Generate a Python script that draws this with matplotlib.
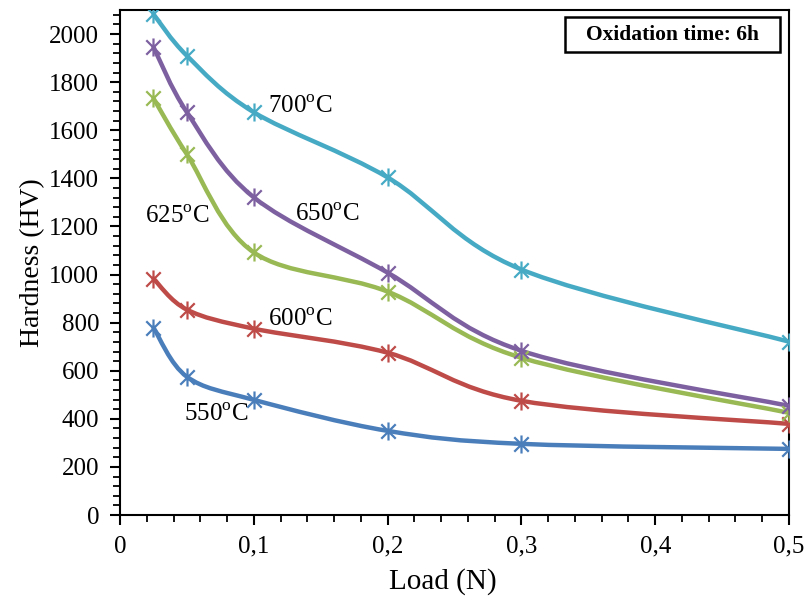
import matplotlib
matplotlib.use("Agg")
import matplotlib.pyplot as plt
import numpy as np
from matplotlib.path import Path
from matplotlib.patches import PathPatch, Rectangle
from matplotlib.ticker import MultipleLocator, FuncFormatter

plt.rcParams["font.family"] = ["Liberation Serif", "DejaVu Serif"]
plt.rcParams["mathtext.fontset"] = "custom"
plt.rcParams["mathtext.rm"] = "Liberation Serif"

load = [0.025, 0.05, 0.1, 0.2, 0.3, 0.5]
hv_550 = [779, 575, 479, 350, 296, 275]
hv_600 = [983, 854, 775, 675, 475, 379]
hv_625 = [1733, 1500, 1092, 929, 654, 425]
hv_650 = [1946, 1675, 1321, 1008, 683, 454]
hv_700 = [2083, 1910, 1675, 1404, 1021, 721]

series = [
    ("550", hv_550, "#4a7ebb", (0.048, 417)),
    ("600", hv_600, "#be4b48", (0.1106, 812)),
    ("625", hv_625, "#98b954", (0.0187, 1238)),
    ("650", hv_650, "#7d60a0", (0.131, 1250)),
    ("700", hv_700, "#46aac5", (0.1106, 1696)),
]

# excel-like star marker: vertical bar plus an x
star = Path(
    [(0, -1), (0, 1), (-0.8, -0.8), (0.8, 0.8), (-0.8, 0.8), (0.8, -0.8)],
    [Path.MOVETO, Path.LINETO] * 3,
)


def smooth_path(xs, ys):
    pts = np.column_stack([xs, ys]).astype(float)
    ext = np.vstack([pts[0], pts, pts[-1]])
    verts = [pts[0]]
    codes = [Path.MOVETO]
    for i in range(len(pts) - 1):
        p0, p1, p2, p3 = ext[i], ext[i + 1], ext[i + 2], ext[i + 3]
        c1 = p1 + (p2 - p0) / 6
        c2 = p2 - (p3 - p1) / 6
        verts += [c1, c2, p2]
        codes += [Path.CURVE4] * 3
    return Path(verts, codes)


fig = plt.figure(figsize=(8.06, 5.99), dpi=100)
ax = fig.add_axes([0.1489, 0.1402, 0.830, 0.843])

for name, vals, color, pos in series:
    ax.add_patch(PathPatch(smooth_path(load, vals), facecolor="none",
                           edgecolor=color, lw=3.2, capstyle="round", zorder=2))
    ax.plot(load, vals, linestyle="none", marker=star, markersize=13,
            markeredgewidth=1.6, color=color, zorder=3)
    ax.text(pos[0], pos[1], name + r"$^{\mathrm{o}}$C", fontsize=18,
            ha="left", va="center", zorder=4)

ax.set_xlim(0, 0.5)
ax.set_ylim(0, 2100)
ax.xaxis.set_major_locator(MultipleLocator(0.1))
ax.xaxis.set_minor_locator(MultipleLocator(0.02))
ax.yaxis.set_major_locator(MultipleLocator(200))
ax.yaxis.set_minor_locator(MultipleLocator(40))
ax.xaxis.set_major_formatter(FuncFormatter(
    lambda v, p: "0" if abs(v) < 1e-9 else f"{v:.1f}".replace(".", ",")))
ax.tick_params(which="major", direction="out", length=7, width=1.5,
               labelsize=18, pad=8)
ax.tick_params(which="minor", direction="out", length=5, width=1.3)
for sp in ax.spines.values():
    sp.set_linewidth(1.5)
ax.set_xlabel("Load (N)", fontsize=21, labelpad=0)
ax.xaxis.set_label_coords(0.482, -0.105)
ax.set_ylabel("Hardness (HV)", fontsize=20, labelpad=3)

ax.add_patch(Rectangle((0.665, 0.917), 0.322, 0.069, transform=ax.transAxes,
                       facecolor="white", edgecolor="black", lw=1.8, zorder=5))
ax.text(0.826, 0.951, "Oxidation time: 6h", transform=ax.transAxes,
        fontsize=15.5, fontweight="bold", ha="center", va="center", zorder=6)

fig.savefig("out.png", dpi=100)
